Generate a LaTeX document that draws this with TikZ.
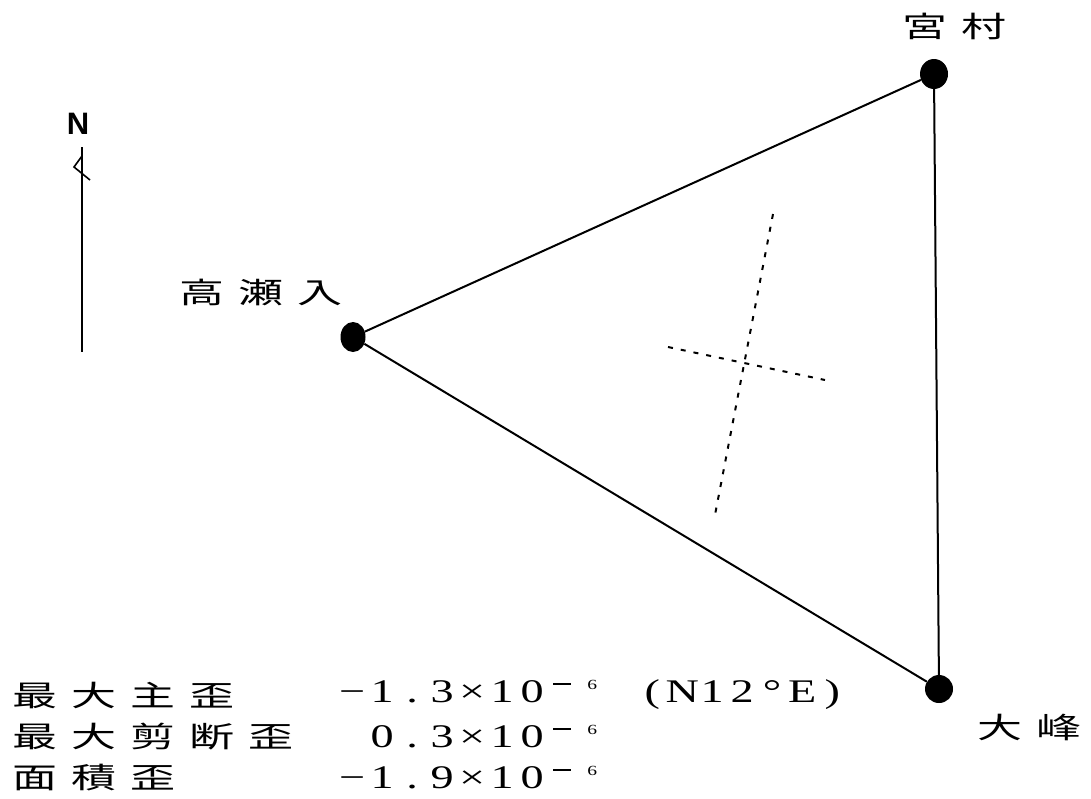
\documentclass[tikz,border=0pt]{standalone}
\usepackage{fontspec}
\usepackage{graphicx}
\setmainfont{Liberation Sans}
\newfontfamily\cjk{Noto Sans CJK JP}
\newfontfamily\numf{Liberation Serif}
\usetikzlibrary{shapes.geometric}
\newcommand\cb[1]{\makebox[59pt]{\scalebox{1.55}[1]{#1}}}
\newcommand\nb[1]{\makebox[30pt]{\scalebox{1.4}[1]{#1}}}
\newcommand\supminus{\raisebox{18pt}{\rule{13pt}{1.8pt}}}
\newcommand\supsix{\raisebox{13pt}{\fontsize{14}{14}\selectfont 6}}
\tikzset{
  station/.style={ellipse, fill=black, draw=none, inner sep=0pt, minimum width=28pt, minimum height=30pt},
  edge/.style={line width=2pt},
  axis/.style={line width=2pt, dash pattern=on 5pt off 8pt},
  cjklab/.style={inner sep=0pt, font=\cjk\fontsize{29}{32}\selectfont},
  numlab/.style={inner sep=0pt, anchor=west, font=\numf\fontsize{33}{35}\selectfont},
  rowlab/.style={cjklab, anchor=west},
}
\begin{document}
\begin{tikzpicture}[x=1pt,y=-1pt]
\useasboundingbox (0,0) rectangle (1091,798);
% stations
\node[station] (miya) at (934,74) {};
\node[station, minimum width=25pt] (taka) at (353,337) {};
\node[station, minimum height=28pt] (omine) at (939,689) {};
\draw[edge] (taka) -- (miya);
\draw[edge] (miya) -- (omine);
\draw[edge] (taka) -- (omine);
% station labels
\node[cjklab] (lmiya) at (954,26) {\cb{宮}\cb{村}};
\node[cjklab] (ltaka) at (261,292) {\cb{高}\cb{瀬}\cb{入}};
\node[cjklab] (lomine) at (1029,727) {\cb{大}\cb{峰}};
% principal strain axes
\coordinate (a1) at (773,214);
\coordinate (a2) at (714,520);
\coordinate (b1) at (668,347);
\coordinate (b2) at (825,380);
\draw[axis] (a1) -- (a2);
\draw[axis] (b1) -- (b2);
% north arrow
\node[inner sep=0pt, font=\bfseries\fontsize{31}{31}\selectfont] (north) at (78,124) {N};
\coordinate (ntop) at (82,147);
\coordinate (nbot) at (82,352);
\coordinate (h1) at (82,156);
\coordinate (h2) at (74,167);
\coordinate (h3) at (90,180);
\draw[line width=1.6pt] (ntop) -- (nbot);
\draw[line width=1.6pt] (h1) -- (h2) -- (h3);
% results
\node[rowlab] (r1) at (5,695) {\cb{最}\cb{大}\cb{主}\cb{歪}};
\node[rowlab] (r2) at (5,737) {\cb{最}\cb{大}\cb{剪}\cb{断}\cb{歪}};
\node[rowlab] (r3) at (5,778) {\cb{面}\cb{積}\cb{歪}};
\node[numlab] (v1) at (337,695) {\nb{−}\nb{1}\nb{.}\nb{3}\nb{×}\nb{1}\nb{0}\nb{\supminus}\nb{\supsix}\nb{}\nb{(}\nb{N}\nb{1}\nb{2}\nb{°}\nb{E}\nb{)}};
\node[numlab] (v2) at (337,737) {\nb{}\nb{0}\nb{.}\nb{3}\nb{×}\nb{1}\nb{0}\nb{\supminus}\nb{\supsix}};
\node[numlab] (v3) at (337,778) {\nb{−}\nb{1}\nb{.}\nb{9}\nb{×}\nb{1}\nb{0}\nb{\supminus}\nb{\supsix}};
\end{tikzpicture}
\end{document}
